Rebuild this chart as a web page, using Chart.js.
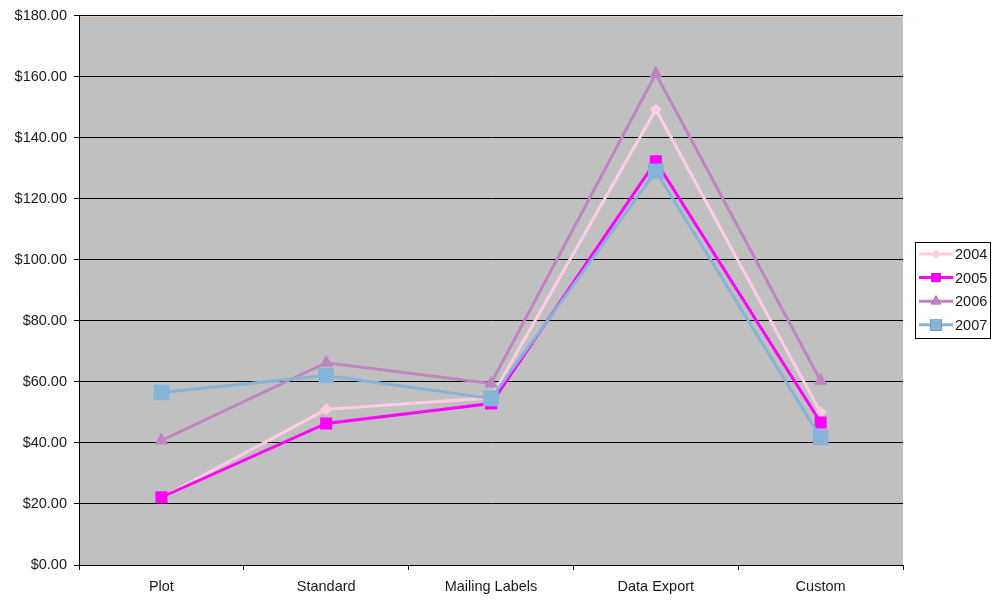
<!DOCTYPE html>
<html>
<head>
<meta charset="utf-8">
<script src="https://cdn.jsdelivr.net/npm/chart.js@4/dist/chart.umd.min.js"></script>
<style>
  html, body { margin: 0; padding: 0; background: #ffffff; }
  #wrap { width: 996px; height: 600px; }
</style>
</head>
<body>
<div id="wrap"><canvas id="c" width="996" height="600"></canvas></div>
<script>
const categories = ['Plot', 'Standard', 'Mailing Labels', 'Data Export', 'Custom'];
const seriesNames = ['2004', '2005', '2006', '2007'];
const values2004 = [22.0, 51.0, 54.8, 149.3, 50.0];
const values2005 = [22.2, 46.4, 52.9, 132.3, 46.7];
const values2006 = [40.8, 66.3, 59.5, 161.0, 60.4];
const values2007 = [56.5, 62.1, 54.6, 129.0, 41.8];
const yTicks = [0, 20, 40, 60, 80, 100, 120, 140, 160, 180];

const colors = ['#FFCCE6', '#FF00FF', '#C084C0', '#86B3D8'];
const shapes = ['rectRot', 'rect', 'triangle', 'rect'];
const radii = [6, 8.5, 8, 11];
const allValues = [values2004, values2005, values2006, values2007];

const FONT = 'Liberation Sans, Arial, sans-serif';

const datasets = seriesNames.map((name, i) => ({
  label: name,
  data: allValues[i],
  borderColor: colors[i],
  backgroundColor: colors[i],
  borderWidth: 3,
  pointStyle: shapes[i],
  pointRadius: radii[i],
  pointHoverRadius: radii[i],
  pointBorderWidth: 0,
  pointBackgroundColor: colors[i],
  tension: 0,
  order: seriesNames.length - 1 - i
}));

// Boxed legend on the right, drawn after the chart.
const boxedLegend = {
  id: 'boxedLegend',
  afterDraw(chart) {
    const ctx = chart.ctx;
    const x0 = 915.5, y0 = 242.5, w = 75, h = 96;
    ctx.save();
    ctx.strokeStyle = '#000';
    ctx.lineWidth = 1;
    ctx.fillStyle = '#fff';
    ctx.fillRect(x0, y0, w, h);
    ctx.strokeRect(x0, y0, w, h);
    ctx.font = '14.5px ' + FONT;
    ctx.textBaseline = 'middle';
    chart.data.datasets.forEach((ds, i) => {
      const y = 254 + i * 23.6;
      ctx.strokeStyle = ds.borderColor;
      ctx.lineWidth = 3;
      ctx.beginPath();
      ctx.moveTo(919, y);
      ctx.lineTo(953, y);
      ctx.stroke();
      Chart.helpers.drawPoint(ctx, {
        pointStyle: ds.pointStyle,
        radius: ds.pointRadius * 0.75,
        rotation: 0,
        borderWidth: 0
      }, 936, y);
      ctx.fillStyle = ds.borderColor;
      ctx.fill();
      ctx.fillStyle = '#1a1a1a';
      ctx.fillText(ds.label, 955, y + 1);
    });
    ctx.restore();
  }
};

// Plot-area fill and the light top edge.
const plotBackground = {
  id: 'plotBackground',
  beforeDraw(chart) {
    const { ctx, chartArea: a } = chart;
    ctx.save();
    ctx.fillStyle = '#C0C0C0';
    ctx.fillRect(a.left, a.top, a.right - a.left, a.bottom - a.top);
    ctx.strokeStyle = '#F2DCB4';
    ctx.lineWidth = 1;
    ctx.beginPath();
    ctx.moveTo(a.left, a.top + 0.5);
    ctx.lineTo(a.right, a.top + 0.5);
    ctx.stroke();
    ctx.restore();
  }
};

new Chart(document.getElementById('c'), {
  type: 'line',
  data: { labels: categories, datasets },
  plugins: [plotBackground, boxedLegend],
  options: {
    responsive: false,
    animation: false,
    layout: { padding: { top: 14, right: 93, left: 0, bottom: 0 } },
    plugins: {
      legend: { display: false },
      tooltip: { enabled: false }
    },
    scales: {
      x: {
        type: 'category',
        offset: true,
        grid: {
          offset: true,
          drawOnChartArea: false,
          drawTicks: true,
          tickLength: 5,
          color: '#000'
        },
        border: { color: '#000', width: 1 },
        ticks: {
          color: '#1a1a1a',
          font: { family: FONT, size: 14.5 },
          padding: 8,
          maxRotation: 0
        },
        afterFit(scale) { scale.height = 35; }
      },
      y: {
        min: 0,
        max: 180,
        afterBuildTicks(scale) { scale.ticks = yTicks.map(v => ({ value: v })); },
        grid: {
          color: '#000',
          lineWidth: 1,
          drawTicks: true,
          tickLength: 5
        },
        border: { color: '#000', width: 1 },
        ticks: {
          color: '#1a1a1a',
          font: { family: FONT, size: 14.5 },
          padding: 7,
          callback: v => '$' + Number(v).toFixed(2)
        },
        afterFit(scale) { scale.width = 79; }
      }
    }
  }
});
</script>
</body>
</html>
